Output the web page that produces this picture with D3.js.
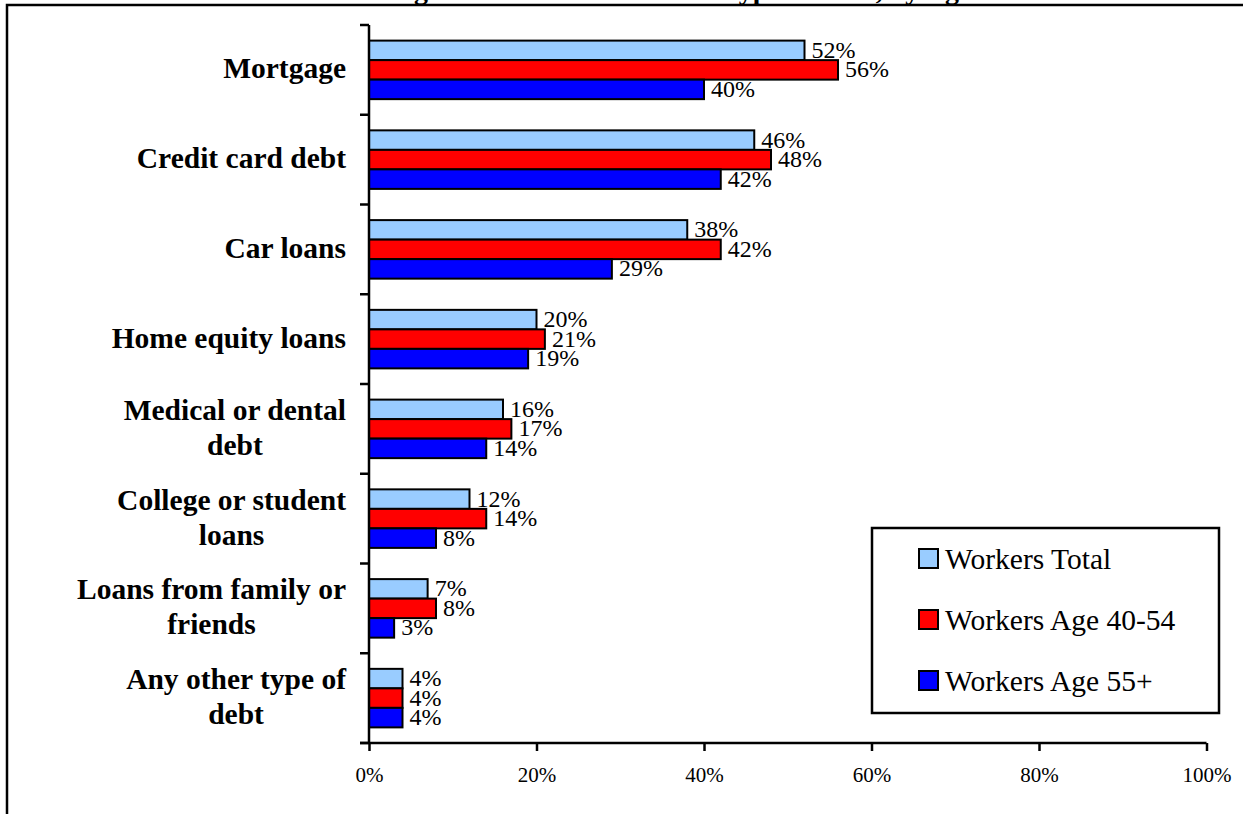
<!DOCTYPE html>
<html>
<head>
<meta charset="utf-8">
<script src="https://cdn.jsdelivr.net/npm/d3@7"></script>
<style>
  html, body { margin: 0; padding: 0; background: #fff; }
  svg { display: block; }
  text { font-family: "Times New Roman", "Liberation Serif", serif; fill: #000; }
</style>
</head>
<body>
<svg id="chart" width="1243" height="814"></svg>
<script>
// Debt categories (top to bottom) and label lines
const categories = [
  "Mortgage",
  "Credit card debt",
  "Car loans",
  "Home equity loans",
  "Medical or dental debt",
  "College or student loans",
  "Loans from family or friends",
  "Any other type of debt"
];
const categoryLines = [
  ["Mortgage"],
  ["Credit card debt"],
  ["Car loans"],
  ["Home equity loans"],
  ["Medical or dental", "debt"],
  ["College or student", "loans"],
  ["Loans from family or", "friends"],
  ["Any other type of", "debt"]
];

const seriesNames = ["Workers Total", "Workers Age 40-54", "Workers Age 55+"];
const seriesColors = ["#99CCFF", "#FF0000", "#0000FF"];

// Percent of workers holding each type of debt
const workersTotal = [52, 46, 38, 20, 16, 12, 7, 4];
const workersAge40to54 = [56, 48, 42, 21, 17, 14, 8, 4];
const workersAge55plus = [40, 42, 29, 19, 14, 8, 3, 4];

const xTicks = [0, 20, 40, 60, 80, 100];
const chartTitle = "Percentage of Workers With Each Type of Debt, by Age";

const seriesValues = [workersTotal, workersAge40to54, workersAge55plus];

const svg = d3.select("#chart");

// Outer frame (runs off the right and bottom edges)
svg.append("rect")
  .attr("x", 7).attr("y", 5)
  .attr("width", 1300).attr("height", 900)
  .attr("fill", "none").attr("stroke", "#000").attr("stroke-width", 2.5);

// Title, sitting just above the frame
svg.append("text")
  .attr("x", 640).attr("y", -1)
  .attr("text-anchor", "middle")
  .attr("font-weight", "bold")
  .attr("font-size", 28)
  .text(chartTitle);

const plot = { left: 369, right: 1206.5, top: 25, bottom: 743 };

const x = d3.scaleLinear().domain([0, 100]).range([plot.left, plot.right]);
const y0 = d3.scaleBand().domain(categories).range([plot.top, plot.bottom]).padding(0);
const y1 = d3.scaleBand().domain(seriesNames).range([0, y0.bandwidth()])
  .paddingInner(0).paddingOuter(0.8);

// Bars with value labels
const groups = svg.append("g").selectAll("g")
  .data(categories)
  .join("g")
  .attr("transform", d => `translate(0,${y0(d)})`);

groups.each(function(cat, ci) {
  const g = d3.select(this);
  seriesNames.forEach((s, si) => {
    const v = seriesValues[si][ci];
    g.append("rect")
      .attr("x", x(0))
      .attr("y", y1(s))
      .attr("width", x(v) - x(0))
      .attr("height", y1.bandwidth())
      .attr("fill", seriesColors[si])
      .attr("stroke", "#000")
      .attr("stroke-width", 2);
    g.append("text")
      .attr("x", x(v) + 7)
      .attr("y", y1(s) + y1.bandwidth() / 2 + 7.5)
      .attr("font-size", 24)
      .text(v + "%");
  });
});

// Y axis: line with ticks at category boundaries
const yAxis = svg.append("g");
yAxis.append("line")
  .attr("x1", plot.left).attr("x2", plot.left)
  .attr("y1", plot.top).attr("y2", plot.bottom)
  .attr("stroke", "#000").attr("stroke-width", 2.5);
const boundaries = categories.map(c => y0(c)).concat([plot.bottom]);
yAxis.selectAll("line.tick")
  .data(boundaries)
  .join("line")
  .attr("class", "tick")
  .attr("x1", plot.left - 9).attr("x2", plot.left)
  .attr("y1", d => d).attr("y2", d => d)
  .attr("stroke", "#000").attr("stroke-width", 2.5);

// Category labels: centred block, right edge at 346
const labelRight = 346;
const lineGap = 35;
categories.forEach((cat, ci) => {
  const lines = categoryLines[ci];
  const t = svg.append("text")
    .attr("font-weight", "bold")
    .attr("font-size", 29.5)
    .attr("text-anchor", "middle");
  const cy = y0(cat) + y0.bandwidth() / 2 + 8.5 - (lines.length - 1) * lineGap / 2;
  const spans = lines.map((ln, li) =>
    t.append("tspan").attr("y", cy + li * lineGap).text(ln));
  const maxW = d3.max(spans, sp => sp.node().getComputedTextLength());
  spans.forEach(sp => sp.attr("x", labelRight - maxW / 2));
});

// X axis
const xAxis = d3.axisBottom(x)
  .tickValues(xTicks)
  .tickFormat(d => d + "%")
  .tickSize(8)
  .tickPadding(16);
const xg = svg.append("g")
  .attr("transform", `translate(0,${plot.bottom})`)
  .call(xAxis);
xg.select(".domain").remove();
xg.append("line")
  .attr("x1", plot.left - 9).attr("x2", plot.right)
  .attr("y1", 0).attr("y2", 0)
  .attr("stroke", "#000").attr("stroke-width", 2.5);
xg.selectAll(".tick line").attr("stroke", "#000").attr("stroke-width", 2.5);
xg.selectAll(".tick text")
  .attr("font-family", "'Times New Roman', 'Liberation Serif', serif")
  .attr("font-size", 21)
  .attr("fill", "#000");

// Legend
const legend = svg.append("g").attr("transform", "translate(872,528)");
legend.append("rect")
  .attr("width", 347).attr("height", 185)
  .attr("fill", "#fff").attr("stroke", "#000").attr("stroke-width", 2.5);
seriesNames.forEach((s, i) => {
  const cy = 31 + i * 61;
  legend.append("rect")
    .attr("x", 47).attr("y", cy - 10)
    .attr("width", 19).attr("height", 19)
    .attr("fill", seriesColors[i])
    .attr("stroke", "#000").attr("stroke-width", 2);
  legend.append("text")
    .attr("x", 73).attr("y", cy + 10)
    .attr("font-size", 29.5)
    .text(s);
});
</script>
</body>
</html>
